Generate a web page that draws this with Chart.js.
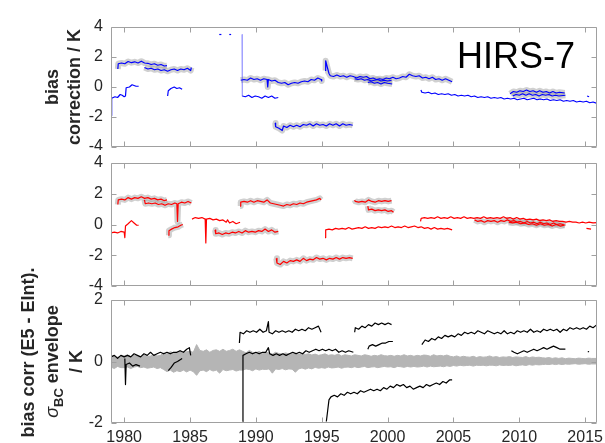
<!DOCTYPE html>
<html>
<head>
<meta charset="utf-8">
<script src="https://cdn.jsdelivr.net/npm/chart.js@4.4.1/dist/chart.umd.min.js"></script>
<style>
  html, body { margin: 0; padding: 0; background: #fff; }
  #wrap { position: relative; width: 605px; height: 443px; overflow: hidden; }
  .pane { position: absolute; left: 0; width: 605px; }
</style>
</head>
<body>
<div id="wrap">
  <div class="pane" style="top:0;height:150px"><canvas id="c1"></canvas></div>
  <div class="pane" style="top:150px;height:140px"><canvas id="c2"></canvas></div>
  <div class="pane" style="top:150px;height:293px"><canvas id="c3"></canvas></div>
</div>
<script>
// === Dados (ano, valor em K) ===
const yearTicks = [1980, 1985, 1990, 1995, 2000, 2005, 2010, 2015];
const biasTicks = [-4, -2, 0, 2, 4];
const deltaTicks = [-2, 0, 2];

// painel 1 - azul
const blueA = [[1979.0,-1.9],[1979.05,-0.75],[1979.3,-0.65],[1979.5,-0.7],[1979.7,-0.5],[1979.85,-0.55],[1980.0,-0.65],[1980.1,-0.6],[1980.15,-0.05],[1980.4,0.0],[1980.6,0.15],[1980.75,0.1],[1980.9,0.05],[1981.1,0.05]];
const blueB = [[1979.52,1.2],[1979.55,1.55],[1979.8,1.6],[1980.05,1.55],[1980.3,1.7],[1980.55,1.62],[1980.8,1.68],[1981.05,1.6],[1981.3,1.72],[1981.55,1.6],[1981.8,1.58],[1982.05,1.5],[1982.3,1.55],[1982.55,1.45],[1982.8,1.5],[1983.05,1.4],[1983.25,1.42]];
const blueC = [[1981.54,1.3],[1981.8,1.2],[1982.05,1.25],[1982.3,1.15],[1982.55,1.2],[1982.8,1.1],[1983.05,1.15],[1983.3,1.05],[1983.55,1.15],[1983.8,1.2],[1984.05,1.1],[1984.3,1.2],[1984.55,1.15],[1984.8,1.25],[1985.05,1.1],[1985.1,1.3]];
const blueD = [[1983.3,-0.6],[1983.35,-0.25],[1983.55,-0.1],[1983.8,0.0],[1984.0,-0.1],[1984.2,-0.05],[1984.4,-0.15]];
const blueTop1 = [[1987.22,3.5],[1987.38,3.5]];
const blueTop2 = [[1987.98,3.5],[1988.12,3.5]];
const blueJump = [[1988.95,3.5],[1988.97,-0.6]];
const blueE = [[1988.85,0.45],[1989.1,0.5],[1989.35,0.45],[1989.6,0.6],[1989.85,0.5],[1990.1,0.55],[1990.35,0.45],[1990.6,0.55],[1990.85,0.5],[1990.9,0.0],[1990.95,0.5],[1991.2,0.4],[1991.45,0.45],[1991.7,0.3],[1991.95,0.25],[1992.2,0.3],[1992.45,0.15],[1992.7,0.25],[1992.95,0.3],[1993.2,0.25],[1993.45,0.35],[1993.7,0.4],[1993.95,0.35],[1994.2,0.5],[1994.45,0.45],[1994.7,0.6],[1994.95,0.5],[1995.0,0.4]];
const blueF = [[1988.97,-0.6],[1989.2,-0.65],[1989.45,-0.55],[1989.7,-0.7],[1989.95,-0.6],[1990.2,-0.65],[1990.45,-0.75],[1990.7,-0.6],[1990.95,-0.7],[1991.2,-0.6],[1991.45,-0.75],[1991.7,-0.7]];
const blueG = [[1991.47,-2.4],[1991.5,-2.65],[1991.75,-2.75],[1992.0,-2.9],[1992.1,-2.6],[1992.35,-2.7],[1992.6,-2.55],[1992.85,-2.65],[1993.1,-2.55],[1993.35,-2.65],[1993.6,-2.5],[1993.85,-2.55],[1994.1,-2.45],[1994.35,-2.6],[1994.6,-2.45],[1994.85,-2.55],[1995.1,-2.5],[1995.35,-2.6],[1995.6,-2.45],[1995.85,-2.55],[1996.1,-2.45],[1996.35,-2.6],[1996.6,-2.45],[1996.85,-2.55],[1997.1,-2.5],[1997.35,-2.55]];
const blueH = [[1995.25,1.1],[1995.3,1.75],[1995.4,1.4],[1995.55,0.9],[1995.65,0.75],[1995.9,0.7],[1996.15,0.8],[1996.4,0.7],[1996.65,0.75],[1996.9,0.65],[1997.15,0.75],[1997.4,0.7],[1997.65,0.6],[1997.9,0.7],[1998.15,0.65],[1998.4,0.7],[1998.65,0.55],[1998.9,0.6],[1999.15,0.5],[1999.4,0.55],[1999.65,0.5],[1999.9,0.6],[2000.15,0.55],[2000.4,0.65],[2000.65,0.55],[2000.9,0.6],[2001.15,0.7],[2001.4,0.65],[2001.65,0.85],[2001.9,0.75],[2002.15,0.7],[2002.4,0.75],[2002.65,0.6],[2002.9,0.65],[2003.15,0.55],[2003.4,0.65],[2003.65,0.5],[2003.9,0.55],[2004.15,0.45],[2004.4,0.55],[2004.65,0.45],[2004.9,0.35]];
const blueI1 = [[1997.5,0.55],[1997.75,0.5],[1998.0,0.55],[1998.25,0.45],[1998.5,0.5],[1998.75,0.4],[1999.0,0.45],[1999.25,0.5],[1999.5,0.4],[1999.75,0.45],[2000.0,0.4],[2000.3,0.45]];
const blueI2 = [[1998.5,0.3],[1998.75,0.35],[1999.0,0.25],[1999.25,0.3],[1999.5,0.2],[1999.75,0.3],[2000.0,0.25],[2000.35,0.2]];
const blueJ = [[2002.53,-0.2],[2002.6,-0.35],[2002.85,-0.4],[2003.1,-0.35],[2003.35,-0.45],[2003.6,-0.4],[2003.85,-0.5],[2004.1,-0.45],[2004.35,-0.5],[2004.6,-0.45],[2004.85,-0.55],[2005.1,-0.5],[2005.35,-0.6],[2005.6,-0.55],[2005.85,-0.6],[2006.1,-0.55],[2006.35,-0.65],[2006.6,-0.6],[2006.85,-0.7],[2007.1,-0.65],[2007.35,-0.7],[2007.6,-0.65],[2007.85,-0.75],[2008.1,-0.7],[2008.35,-0.75],[2008.6,-0.7],[2008.85,-0.8],[2009.1,-0.75],[2009.35,-0.8],[2009.6,-0.75],[2009.85,-0.85],[2010.1,-0.8],[2010.35,-0.75],[2010.6,-0.85],[2010.85,-0.8],[2011.1,-0.75],[2011.35,-0.85],[2011.6,-0.8],[2011.85,-0.85],[2012.1,-0.8],[2012.35,-0.9],[2012.6,-0.85],[2012.85,-0.9],[2013.1,-0.85],[2013.35,-0.95],[2013.6,-0.9],[2013.85,-0.95],[2014.1,-0.9],[2014.35,-1.0],[2014.6,-0.95],[2014.85,-1.0],[2015.1,-0.95],[2015.35,-1.05],[2015.6,-1.0],[2015.9,-1.1]];
const blueK1 = [[2009.3,-0.45],[2009.55,-0.3],[2009.8,-0.35],[2010.05,-0.25],[2010.3,-0.3],[2010.55,-0.2],[2010.8,-0.3],[2011.05,-0.25],[2011.3,-0.35],[2011.55,-0.25],[2011.8,-0.35],[2012.05,-0.3],[2012.3,-0.4],[2012.55,-0.3],[2012.8,-0.4],[2013.05,-0.35],[2013.45,-0.4]];
const blueK2 = [[2009.5,-0.6],[2009.75,-0.5],[2010.0,-0.55],[2010.25,-0.45],[2010.5,-0.55],[2010.75,-0.45],[2011.0,-0.55],[2011.25,-0.5],[2011.5,-0.6],[2011.75,-0.5],[2012.0,-0.55],[2012.25,-0.5],[2012.5,-0.6],[2012.75,-0.55],[2013.0,-0.6],[2013.5,-0.55]];
const blueDot = [[2015.15,-0.6],[2015.3,-0.65]];

// painel 2 - vermelho
const redA = [[1979.0,-0.55],[1979.25,-0.5],[1979.5,-0.55],[1979.75,-0.45],[1980.0,-0.5],[1980.05,-0.85],[1980.1,-0.1],[1980.3,0.05],[1980.55,0.25],[1980.75,0.1],[1980.95,-0.05],[1981.1,-0.05]];
const redB = [[1979.52,1.3],[1979.55,1.6],[1979.8,1.65],[1980.05,1.6],[1980.3,1.75],[1980.55,1.65],[1980.8,1.75],[1981.05,1.7],[1981.3,1.8],[1981.55,1.7],[1981.8,1.75],[1982.05,1.65],[1982.3,1.7],[1982.55,1.6],[1982.8,1.65],[1983.05,1.55],[1983.25,1.6]];
const redC = [[1981.54,1.6],[1981.6,1.35],[1981.85,1.4],[1982.1,1.35],[1982.35,1.4],[1982.6,1.3],[1982.85,1.35],[1983.1,1.25],[1983.35,1.35],[1983.6,1.3],[1983.85,1.4],[1984.0,1.35],[1984.05,0.2],[1984.1,1.35],[1984.35,1.45],[1984.6,1.4],[1984.85,1.5],[1985.1,1.4]];
const redD = [[1983.35,-0.7],[1983.4,-0.4],[1983.6,-0.3],[1983.85,-0.2],[1984.1,-0.15],[1984.3,-0.05],[1984.45,0.0]];
const redE = [[1985.15,0.35],[1985.4,0.45],[1985.65,0.4],[1985.9,0.45],[1986.15,0.35],[1986.2,-1.2],[1986.25,0.35],[1986.5,0.4],[1986.75,0.3],[1987.0,0.35],[1987.25,0.25],[1987.5,0.3],[1987.75,0.15],[1987.85,0.3],[1988.0,0.1],[1988.25,0.2],[1988.5,0.05],[1988.8,0.15]];
const redF = [[1986.9,-0.35],[1986.95,-0.6],[1987.2,-0.55],[1987.45,-0.65],[1987.7,-0.55],[1987.95,-0.6],[1988.2,-0.5],[1988.45,-0.55],[1988.7,-0.45],[1988.95,-0.55],[1989.2,-0.4],[1989.45,-0.5],[1989.7,-0.45],[1989.95,-0.5],[1990.2,-0.4],[1990.45,-0.45],[1990.7,-0.3],[1990.95,-0.45],[1991.2,-0.35],[1991.45,-0.5],[1991.7,-0.45]];
const redG = [[1988.8,1.2],[1988.85,1.45],[1989.1,1.5],[1989.35,1.45],[1989.6,1.55],[1989.85,1.45],[1990.1,1.55],[1990.35,1.5],[1990.6,1.45],[1990.85,1.6],[1991.1,1.4],[1991.35,1.35],[1991.6,1.3],[1991.85,1.25],[1992.1,1.2],[1992.35,1.3],[1992.6,1.25],[1992.85,1.35],[1993.1,1.3],[1993.35,1.4],[1993.6,1.35],[1993.85,1.45],[1994.1,1.5],[1994.35,1.55],[1994.6,1.6],[1994.85,1.7],[1994.95,1.6]];
const redH = [[1991.55,-2.2],[1991.6,-2.5],[1991.85,-2.6],[1992.1,-2.4],[1992.35,-2.5],[1992.6,-2.35],[1992.85,-2.4],[1993.1,-2.3],[1993.35,-2.4],[1993.6,-2.2],[1993.85,-2.35],[1994.1,-2.25],[1994.35,-2.3],[1994.6,-2.15],[1994.85,-2.25],[1995.1,-2.2],[1995.35,-2.3],[1995.6,-2.2],[1995.85,-2.25],[1996.1,-2.15],[1996.35,-2.25],[1996.6,-2.15],[1996.85,-2.2],[1997.1,-2.15],[1997.35,-2.2]];
const redI = [[1995.25,-0.85],[1995.3,-0.35],[1995.55,-0.3],[1995.8,-0.35],[1996.05,-0.25],[1996.3,-0.3],[1996.55,-0.25],[1996.8,-0.3],[1997.05,-0.2],[1997.3,-0.3],[1997.55,-0.25],[1997.8,-0.2],[1998.05,-0.25],[1998.3,-0.15],[1998.55,-0.25],[1998.8,-0.2],[1999.05,-0.25],[1999.3,-0.15],[1999.55,-0.2],[1999.8,-0.15],[2000.05,-0.2],[2000.3,-0.1],[2000.55,-0.2],[2000.8,-0.15],[2001.05,-0.2],[2001.3,-0.1],[2001.55,-0.2],[2001.8,-0.15],[2002.05,-0.1],[2002.3,-0.2],[2002.55,-0.15],[2002.8,-0.25],[2003.05,-0.2],[2003.3,-0.3],[2003.55,-0.2],[2003.8,-0.3],[2004.05,-0.25],[2004.3,-0.3],[2004.55,-0.25],[2004.9,-0.35]];
const redJ = [[1997.5,1.6],[1997.55,1.5],[1997.8,1.45],[1998.05,1.5],[1998.3,1.45],[1998.55,1.6],[1998.8,1.5],[1999.05,1.45],[1999.3,1.55],[1999.55,1.5],[1999.8,1.55],[2000.05,1.5],[2000.3,1.55]];
const redK = [[1998.5,1.2],[1998.55,0.95],[1998.8,1.0],[1999.05,0.9],[1999.3,0.95],[1999.55,0.9],[1999.8,0.95],[2000.05,0.85],[2000.3,0.9],[2000.45,0.8]];
const redL = [[2002.5,0.2],[2002.55,0.4],[2002.8,0.45],[2003.05,0.4],[2003.3,0.45],[2003.55,0.4],[2003.8,0.5],[2004.05,0.4],[2004.3,0.45],[2004.55,0.4],[2004.8,0.5],[2005.05,0.4],[2005.3,0.45],[2005.55,0.4],[2005.8,0.5],[2006.05,0.4],[2006.3,0.45],[2006.55,0.4],[2006.8,0.45],[2007.05,0.4],[2007.3,0.5],[2007.55,0.4],[2007.8,0.45],[2008.05,0.4],[2008.3,0.45],[2008.55,0.4],[2008.8,0.5],[2009.05,0.4],[2009.3,0.45],[2009.55,0.35],[2009.8,0.45],[2010.05,0.35],[2010.3,0.4],[2010.55,0.3],[2010.8,0.35],[2011.05,0.3],[2011.3,0.35],[2011.55,0.25],[2011.8,0.3],[2012.05,0.25],[2012.3,0.3],[2012.55,0.2],[2012.8,0.25],[2013.05,0.2],[2013.3,0.2],[2013.55,0.15],[2013.8,0.2],[2014.05,0.15],[2014.3,0.15],[2014.55,0.1],[2014.8,0.15],[2015.05,0.1],[2015.3,0.15],[2015.6,0.1],[2015.9,0.12]];
const redM = [[2006.6,0.3],[2006.85,0.2],[2007.1,0.25],[2007.35,0.15],[2007.6,0.25],[2007.85,0.2],[2008.1,0.25],[2008.35,0.15],[2008.6,0.25],[2008.85,0.2],[2009.1,0.3],[2009.35,0.2],[2009.6,0.25],[2009.85,0.15],[2010.1,0.2],[2010.35,0.1],[2010.6,0.2],[2010.85,0.1],[2011.1,0.15],[2011.35,0.05],[2011.6,0.15],[2011.85,0.05],[2012.1,0.1],[2012.35,0.0],[2012.6,0.1],[2012.85,0.0],[2013.1,0.05],[2013.5,-0.05]];
const redN = [[2009.2,0.15],[2009.5,0.1],[2009.8,0.15],[2010.1,0.05],[2010.4,0.1],[2010.7,0.0],[2011.0,0.05],[2011.3,-0.05],[2011.6,0.05],[2011.9,-0.05],[2012.2,0.0],[2012.5,-0.1],[2012.8,0.0],[2013.1,-0.1],[2013.4,-0.05]];
const redDot = [[2015.1,-0.25],[2015.45,-0.3]];

// painel 3 - preto (diferença)
const blackA = [[1979.0,0.15],[1979.25,0.2],[1979.5,0.1],[1979.75,0.2],[1980.0,0.15],[1980.25,0.2],[1980.5,0.15],[1980.75,0.25],[1981.0,0.2],[1981.25,0.15],[1981.5,0.25],[1981.75,0.2],[1982.0,0.3],[1982.25,0.2],[1982.5,0.25],[1982.75,0.3],[1983.0,0.25],[1983.25,0.3],[1983.5,0.25],[1983.75,0.3],[1984.0,0.3],[1984.25,0.35],[1984.5,0.3],[1984.75,0.4],[1984.95,0.45],[1985.05,0.2]];
const blackB = [[1980.05,0.1],[1980.1,-0.75],[1980.15,-0.1],[1980.4,-0.05],[1980.65,-0.15],[1980.9,-0.1],[1981.2,-0.15]];
const blackC = [[1983.35,-0.3],[1983.55,-0.2],[1983.8,-0.05],[1984.05,0.0],[1984.4,0.1]];
const blackD = [[1988.75,0.6],[1988.8,0.95],[1989.05,0.9],[1989.3,1.0],[1989.55,0.95],[1989.8,1.0],[1990.05,0.95],[1990.3,1.05],[1990.55,0.95],[1990.8,1.0],[1990.95,1.3],[1991.0,0.95],[1991.25,0.9],[1991.5,1.0],[1991.75,0.95],[1992.0,1.0],[1992.25,0.95],[1992.5,1.0],[1992.75,0.95],[1993.0,1.05],[1993.25,1.0],[1993.5,1.05],[1993.75,1.0],[1994.0,1.1],[1994.25,1.05],[1994.5,1.1],[1994.75,1.15],[1994.95,0.95]];
const blackE = [[1989.0,-1.95],[1989.02,0.2],[1989.25,0.25],[1989.5,0.3],[1989.75,0.25],[1990.0,0.3],[1990.25,0.25],[1990.5,0.3],[1990.75,0.3],[1990.95,0.45],[1991.05,0.25],[1991.3,0.2],[1991.55,0.25],[1991.8,0.2],[1992.05,0.25],[1992.3,0.2],[1992.55,0.25],[1992.8,0.3],[1993.05,0.25],[1993.3,0.3],[1993.55,0.25],[1993.8,0.35],[1994.05,0.3],[1994.3,0.35],[1994.55,0.4],[1994.8,0.35],[1995.05,0.4],[1995.3,0.35],[1995.55,0.4],[1995.8,0.35],[1996.05,0.4],[1996.3,0.3],[1996.55,0.35],[1996.8,0.3],[1997.05,0.35],[1997.4,0.3]];
const blackF = [[1997.5,0.95],[1997.55,1.1],[1997.8,1.05],[1998.05,1.15],[1998.3,1.1],[1998.55,1.2],[1998.8,1.15],[1999.05,1.25],[1999.3,1.2],[1999.55,1.25],[1999.8,1.2],[2000.05,1.25],[2000.3,1.2]];
const blackG = [[1998.5,0.4],[1998.6,0.5],[1998.85,0.55],[1999.1,0.5],[1999.35,0.55],[1999.6,0.6],[1999.85,0.6],[2000.1,0.65],[2000.4,0.65]];
const blackH = [[1995.35,-1.95],[1995.45,-1.6],[1995.55,-1.25],[1995.7,-1.15],[1995.95,-1.1],[1996.2,-1.15],[1996.45,-1.05],[1996.7,-1.1],[1996.95,-1.0],[1997.2,-1.05],[1997.45,-1.0],[1997.7,-1.05],[1997.95,-0.95],[1998.2,-1.0],[1998.45,-0.95],[1998.7,-0.9],[1998.95,-0.95],[1999.2,-0.9],[1999.45,-0.95],[1999.7,-0.85],[1999.95,-0.9],[2000.2,-0.8],[2000.45,-0.85],[2000.7,-0.75],[2000.95,-0.8],[2001.2,-0.75],[2001.45,-0.85],[2001.7,-0.8],[2001.95,-0.9],[2002.2,-0.85],[2002.45,-0.8],[2002.7,-0.85],[2002.95,-0.75],[2003.2,-0.8],[2003.45,-0.75],[2003.7,-0.7],[2003.95,-0.75],[2004.2,-0.65],[2004.45,-0.7],[2004.7,-0.6],[2004.9,-0.6]];
const blackI = [[2002.6,0.55],[2002.85,0.7],[2003.1,0.65],[2003.35,0.75],[2003.6,0.7],[2003.85,0.8],[2004.1,0.75],[2004.35,0.85],[2004.6,0.8],[2004.85,0.85],[2005.1,0.8],[2005.35,0.9],[2005.6,0.85],[2005.85,0.95],[2006.1,0.9],[2006.35,0.95],[2006.6,0.9],[2006.85,1.0],[2007.1,0.95],[2007.35,0.9],[2007.6,1.0],[2007.85,0.95],[2008.1,0.9],[2008.35,0.95],[2008.6,0.9],[2008.85,1.0],[2009.1,0.9],[2009.35,0.95],[2009.6,0.9],[2009.85,1.0],[2010.1,0.95],[2010.35,1.0],[2010.6,0.95],[2010.85,1.05],[2011.1,0.95],[2011.35,1.0],[2011.6,0.95],[2011.85,1.05],[2012.1,1.0],[2012.35,1.05],[2012.6,1.0],[2012.85,1.05],[2013.1,0.95],[2013.35,1.05],[2013.6,1.0],[2013.85,1.1],[2014.1,1.05],[2014.35,1.1],[2014.6,1.05],[2014.85,1.1],[2015.1,1.05],[2015.35,1.15],[2015.6,1.1],[2015.9,1.2]];
const blackJ = [[2009.4,0.35],[2009.6,0.3],[2009.85,0.25],[2010.1,0.3],[2010.35,0.35],[2010.6,0.3],[2010.85,0.35],[2011.1,0.4],[2011.35,0.35],[2011.6,0.4],[2011.85,0.45],[2012.1,0.4],[2012.35,0.45],[2012.6,0.5],[2012.85,0.45],[2013.1,0.4],[2013.5,0.4]];
const blackDot = [[2015.2,0.32],[2015.3,0.32]];

// envelope sigma_BC: amostras a cada 0.25 ano desde 1979
const envStart = 1979;
const envStep = 0.25;
const envUpper = [
  0.16,0.2,0.14,0.18, 0.18,0.22,0.16,0.2, 0.18,0.14,0.2,0.16, 0.18,0.22,0.18,0.2,
  0.28,0.24,0.32,0.28, 0.3,0.36,0.28,0.32, 0.33,0.3,0.55,0.36, 0.33,0.38,0.3,0.36,
  0.38,0.33,0.4,0.33, 0.36,0.4,0.33,0.38, 0.33,0.28,0.36,0.3, 0.28,0.33,0.26,0.3,
  0.28,0.24,0.3,0.26, 0.24,0.28,0.25,0.27, 0.28,0.24,0.26,0.23, 0.25,0.21,0.24,0.2,
  0.22,0.25,0.2,0.22, 0.2,0.24,0.18,0.22, 0.2,0.18,0.22,0.2, 0.18,0.22,0.2,0.17,
  0.2,0.18,0.22,0.19, 0.18,0.2,0.17,0.2, 0.18,0.22,0.18,0.2, 0.17,0.2,0.18,0.21,
  0.2,0.17,0.22,0.18, 0.2,0.18,0.21,0.17, 0.15,0.18,0.14,0.17, 0.15,0.14,0.17,0.13,
  0.16,0.14,0.15,0.18, 0.14,0.16,0.13,0.15, 0.14,0.16,0.13,0.15, 0.14,0.13,0.16,0.12,
  0.15,0.13,0.14,0.12, 0.11,0.13,0.1,0.12, 0.1,0.12,0.09,0.11, 0.1,0.09,0.11,0.1,
  0.09,0.11,0.1,0.1, 0.1
];
const envLower = [
  -0.18,-0.23,-0.16,-0.2, -0.2,-0.18,-0.23,-0.18, -0.16,-0.2,-0.18,-0.22, -0.2,-0.18,-0.23,-0.2,
  -0.26,-0.33,-0.28,-0.35, -0.3,-0.33,-0.28,-0.34, -0.28,-0.33,-0.45,-0.3, -0.28,-0.33,-0.26,-0.31,
  -0.28,-0.38,-0.26,-0.3, -0.28,-0.26,-0.31,-0.28, -0.28,-0.24,-0.26,-0.3, -0.24,-0.28,-0.25,-0.26,
  -0.24,-0.38,-0.24,-0.26, -0.23,-0.27,-0.24,-0.25, -0.35,-0.24,-0.21,-0.25, -0.21,-0.24,-0.19,-0.22,
  -0.2,-0.22,-0.18,-0.21, -0.2,-0.18,-0.22,-0.19, -0.18,-0.2,-0.17,-0.2, -0.18,-0.16,-0.2,-0.18,
  -0.17,-0.2,-0.18,-0.16, -0.18,-0.17,-0.2,-0.16, -0.17,-0.19,-0.16,-0.18, -0.16,-0.18,-0.17,-0.15,
  -0.18,-0.15,-0.17,-0.16, -0.15,-0.17,-0.14,-0.16, -0.13,-0.15,-0.12,-0.14, -0.13,-0.12,-0.15,-0.12,
  -0.13,-0.12,-0.14,-0.12, -0.12,-0.14,-0.11,-0.13, -0.12,-0.13,-0.11,-0.14, -0.12,-0.11,-0.13,-0.1,
  -0.12,-0.1,-0.11,-0.1, -0.09,-0.1,-0.08,-0.1, -0.08,-0.1,-0.08,-0.09, -0.08,-0.07,-0.09,-0.08,
  -0.07,-0.09,-0.08,-0.08, -0.08
];

// === Estilo ===
const FONT = '"Liberation Sans", Arial, sans-serif';
Chart.defaults.font.family = FONT;
Chart.defaults.color = '#262626';
const BLUE = '#0000ff';
const RED = '#ff0000';
const GRAY_ENV = 'rgba(150,150,150,0.45)';

function toXY(pts) {
  return pts.map(p => ({ x: p[0], y: p[1] }));
}

function linha(pts, cor, largura) {
  return { data: toXY(pts), borderColor: cor, borderWidth: largura, pointRadius: 0, tension: 0, fill: false, borderJoinStyle: 'round', order: 0 };
}

function envelope(pts) {
  return { data: toXY(pts), borderColor: GRAY_ENV, borderWidth: 6, pointRadius: 0, tension: 0, fill: false, borderJoinStyle: 'round', borderCapStyle: 'butt', order: 1 };
}

// moldura cinza com ticks para dentro (estilo matlab)
const frameTicks = {
  id: 'frameTicks',
  afterDatasetsDraw(chart) {
    const { ctx, chartArea: a, scales: { x, y } } = chart;
    const L = Math.round(a.left) + 0.5, R = Math.round(a.right) - 0.5;
    const T = Math.round(a.top) + 0.5, B = Math.round(a.bottom) - 0.5;
    ctx.save();
    ctx.strokeStyle = '#a0a0a0';
    ctx.lineWidth = 1;
    ctx.beginPath();
    ctx.rect(L, T, R - L, B - T);
    yearTicks.forEach(v => {
      const px = Math.round(x.getPixelForValue(v)) + 0.5;
      ctx.moveTo(px, B); ctx.lineTo(px, B - 5);
      ctx.moveTo(px, T); ctx.lineTo(px, T + 5);
    });
    y.ticks.forEach(t => {
      const py = Math.round(y.getPixelForValue(t.value)) + 0.5;
      ctx.moveTo(L, py); ctx.lineTo(L + 5, py);
      ctx.moveTo(R, py); ctx.lineTo(R - 5, py);
    });
    ctx.stroke();
    ctx.restore();
  }
};

const nomeSatelite = {
  id: 'nomeSatelite',
  afterDraw(chart) {
    const { ctx, chartArea: a } = chart;
    ctx.save();
    ctx.font = '36px ' + FONT;
    ctx.fillStyle = '#000';
    ctx.textAlign = 'right';
    ctx.textBaseline = 'alphabetic';
    ctx.fillText('HIRS-7', a.right - 22, a.top + 41);
    ctx.restore();
  }
};

// linha do meio do rótulo do painel 3 (sigma com subscrito BC)
const sigmaLabel = {
  id: 'sigmaLabel',
  afterDraw(chart) {
    const { ctx, chartArea: a } = chart;
    const sy = chart.scales.y;
    const t = sy.options.title;
    const cx = sy.left + t.padding.top + 24 * 1.5;
    const cy = (a.top + a.bottom) / 2;
    const fBig = 'bold 18px ' + FONT;
    const fSig = 'italic 18px ' + FONT;
    const fSub = 'bold 13px ' + FONT;
    ctx.save();
    ctx.translate(cx, cy);
    ctx.rotate(-Math.PI / 2);
    ctx.textBaseline = 'middle';
    ctx.textAlign = 'left';
    ctx.fillStyle = '#262626';
    ctx.font = fSig; const w1 = ctx.measureText('σ').width;
    ctx.font = fSub; const w2 = ctx.measureText('BC').width;
    ctx.font = fBig; const w3 = ctx.measureText(' envelope').width;
    let px = -(w1 + w2 + w3) / 2;
    ctx.font = fSig; ctx.fillText('σ', px, 0); px += w1;
    ctx.font = fSub; ctx.fillText('BC', px, 6); px += w2;
    ctx.font = fBig; ctx.fillText(' envelope', px, 0);
    ctx.restore();
  }
};

function eixoX(mostrar) {
  return {
    type: 'linear', min: 1979, max: 2015.9, display: mostrar,
    grid: { display: false, drawTicks: false }, border: { display: false },
    afterBuildTicks: s => { s.ticks = yearTicks.map(v => ({ value: v })); },
    afterFit: s => { s.height = mostrar ? 20 : 0; s.paddingLeft = 0; s.paddingRight = 0; },
    ticks: { font: { size: 16 }, padding: 5, maxRotation: 0, autoSkip: false, callback: v => String(v) }
  };
}

function eixoY(ticksArr, titulo) {
  return {
    min: ticksArr[0], max: ticksArr[ticksArr.length - 1],
    grid: { display: false, drawTicks: false }, border: { display: false },
    afterBuildTicks: s => { s.ticks = ticksArr.map(v => ({ value: v })); },
    // largura fixa e sem margem extra em cima/baixo, para alinhar os três painéis
    afterFit: s => { s.width = 111; s.paddingTop = 0; s.paddingBottom = 0; },
    ticks: { font: { size: 16 }, padding: 8 },
    title: titulo
  };
}

function opcoes(padTop, padBottom, xVisivel, tituloY, ticksArr) {
  return {
    responsive: true, maintainAspectRatio: false, animation: false,
    layout: { padding: { top: padTop, bottom: padBottom, left: 0, right: 8 } },
    plugins: { legend: { display: false }, tooltip: { enabled: false } },
    scales: { x: eixoX(xVisivel), y: eixoY(ticksArr, tituloY) }
  };
}

// === Painel 1 ===
const env1 = [blueB, blueC, blueE, blueG, blueH, blueI1, blueI2, blueK1, blueK2];
const lin1 = [blueA, blueB, blueC, blueD, blueTop1, blueTop2, blueE, blueF, blueG, blueH, blueI1, blueI2, blueJ, blueK1, blueK2, blueDot];
new Chart(document.getElementById('c1'), {
  type: 'line',
  data: { datasets: [...lin1.map(s => linha(s, BLUE, 1.2)), linha(blueJump, 'rgba(70,70,255,0.55)', 1.2), ...env1.map(envelope)] },
  options: opcoes(27, 3, false, {
    display: true, text: ['bias', 'correction / K'], color: '#262626',
    font: { size: 18, weight: 'bold', lineHeight: '22px' }, padding: { top: 42, bottom: 0 }
  }, biasTicks),
  plugins: [frameTicks, nomeSatelite]
});

// === Painel 2 ===
const env2 = [redB, redC, redD, redF, redG, redH, redJ, redK, redM, redN];
const lin2 = [redA, redB, redC, redD, redE, redF, redG, redH, redI, redJ, redK, redL, redM, redN, redDot];
new Chart(document.getElementById('c2'), {
  type: 'line',
  data: { datasets: [...lin2.map(s => linha(s, RED, 1.2)), ...env2.map(envelope)] },
  options: opcoes(13, 4, false, { display: false }, biasTicks),
  plugins: [frameTicks]
});

// === Painel 3 ===
const envX = envUpper.map((_, i) => envStart + i * envStep);
const lin3 = [blackA, blackB, blackC, blackD, blackE, blackF, blackG, blackH, blackI, blackJ, blackDot];
new Chart(document.getElementById('c3'), {
  type: 'line',
  data: {
    datasets: [
      { data: envX.map((x, i) => ({ x, y: envUpper[i] })), borderColor: '#b5b5b5', backgroundColor: '#b5b5b5', borderWidth: 1, pointRadius: 0, tension: 0, fill: '+1', order: 2 },
      { data: envX.map((x, i) => ({ x, y: envLower[i] })), borderColor: '#b5b5b5', borderWidth: 1, pointRadius: 0, tension: 0, fill: false, order: 2 },
      ...lin3.map(s => linha(s, '#000', 1.2))
    ]
  },
  options: opcoes(150, 0, true, {
    display: true, text: ['Δ bias corr (E5 - EInt).', '', '/ K'], color: '#262626',
    font: { size: 18, weight: 'bold', lineHeight: '24px' }, padding: { top: 17, bottom: 0 }
  }, deltaTicks),
  plugins: [frameTicks, sigmaLabel]
});
</script>
</body>
</html>
